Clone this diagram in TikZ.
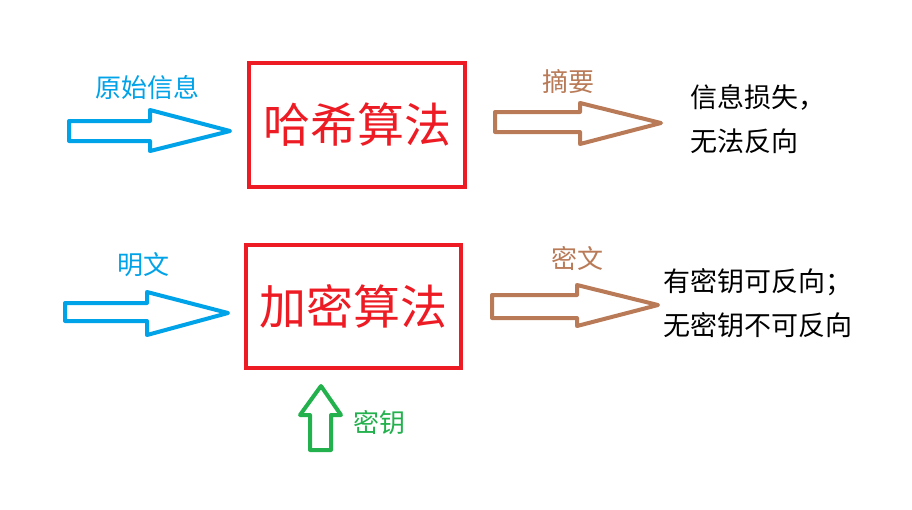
\documentclass[tikz,border=0pt]{standalone}
\usepackage{fontspec}
\setmainfont{Noto Sans CJK SC}
\definecolor{pblue}{HTML}{00A2E8}
\definecolor{pred}{HTML}{ED1C24}
\definecolor{pbrown}{HTML}{B97A57}
\definecolor{pgreen}{HTML}{22B14C}
\begin{document}
\begin{tikzpicture}[x=1pt,y=-1pt,
  algbox/.style={draw=pred,line width=4pt,text=pred,font=\fontsize{47}{50}\selectfont,inner sep=0pt},
  lbl/.style={font=\fontsize{26}{30}\selectfont,inner sep=0pt},
  res/.style={font=\fontsize{27}{44}\selectfont,inner sep=0pt,anchor=west,align=left},
  blockarrow/.style={line width=4pt,line join=round,fill=white}]
\useasboundingbox[fill=white] (0,0) rectangle (912,509);

% boxes
\node[algbox,minimum width=216pt,minimum height=124pt] (hash) at (357,125) {哈希算法};
\node[algbox,minimum width=215pt,minimum height=123pt] (enc) at (353.5,306.5) {加密算法};

% labels
\node[lbl,text=pblue] (orig) at (147,88) {原始信息};
\node[lbl,text=pbrown] (digest) at (568,82) {摘要};
\node[lbl,text=pblue] (plain) at (143,265) {明文};
\node[lbl,text=pbrown] (cipher) at (577,258) {密文};
\node[lbl,text=pgreen] (key) at (379,423) {密钥};

% results
\node[res] (res1) at (690,119.5) {信息损失，\\无法反向};
\node[res] (res2) at (663,303.5) {有密钥可反向；\\无密钥不可反向};

% block arrows
\draw[blockarrow,draw=pblue] (69,121) -- (150,121) -- (150,110) -- (230,131) -- (150,151) -- (150,141) -- (69,141) -- cycle;
\draw[blockarrow,draw=pbrown] (495,112) -- (580,112) -- (580,103) -- (661,123) -- (580,144) -- (580,132) -- (495,132) -- cycle;
\draw[blockarrow,draw=pblue] (65,303) -- (147,303) -- (147,292) -- (228,313) -- (147,335) -- (147,321) -- (65,321) -- cycle;
\draw[blockarrow,draw=pbrown] (492,295) -- (577,295) -- (577,285) -- (658,305) -- (577,326) -- (577,318) -- (492,318) -- cycle;
\draw[blockarrow,draw=pgreen] (310,450) -- (310,415) -- (300,415) -- (321,386) -- (341,415) -- (331,415) -- (331,450) -- cycle;
\end{tikzpicture}
\end{document}
